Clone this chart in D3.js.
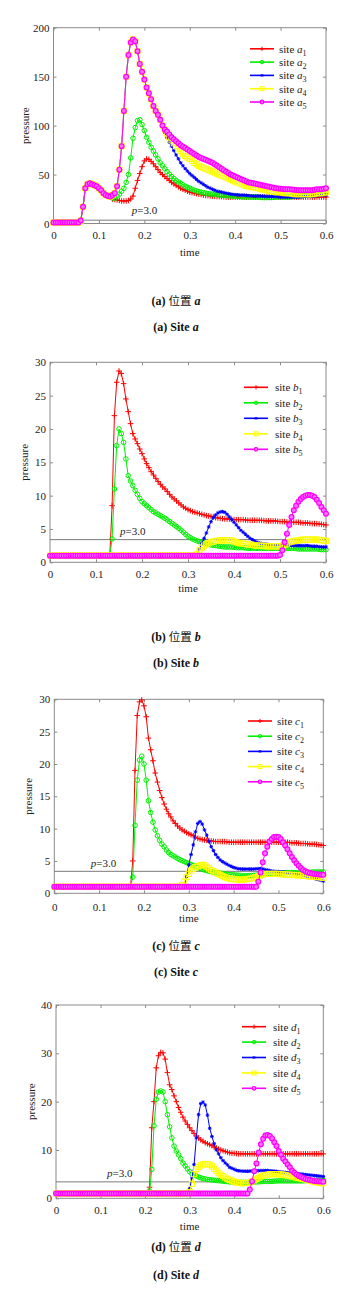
<!DOCTYPE html>
<html><head><meta charset="utf-8">
<script src="https://cdn.jsdelivr.net/npm/d3@7/dist/d3.min.js"></script>
<style>
body{margin:0;background:#fff;}
svg{display:block;}
text{font-family:"Liberation Serif","Times New Roman",serif;}
</style></head><body>
<svg id="chart" width="360" height="1296" font-family="Liberation Serif, Times New Roman, serif"></svg>
<script>
// ---------- data ----------
const time = [
0,0.005,0.01,0.015,0.02,0.025,0.03,0.035,0.04,0.045,
0.05,0.055,0.06,0.065,0.07,0.075,0.08,0.085,0.09,0.095,
0.1,0.105,0.11,0.115,0.12,0.125,0.13,0.135,0.14,0.145,
0.15,0.155,0.16,0.165,0.17,0.175,0.18,0.185,0.19,0.195,
0.2,0.205,0.21,0.215,0.22,0.225,0.23,0.235,0.24,0.245,
0.25,0.255,0.26,0.265,0.27,0.275,0.28,0.285,0.29,0.295,
0.3,0.305,0.31,0.315,0.32,0.325,0.33,0.335,0.34,0.345,
0.35,0.355,0.36,0.365,0.37,0.375,0.38,0.385,0.39,0.395,
0.4,0.405,0.41,0.415,0.42,0.425,0.43,0.435,0.44,0.445,
0.45,0.455,0.46,0.465,0.47,0.475,0.48,0.485,0.49,0.495,
0.5,0.505,0.51,0.515,0.52,0.525,0.53,0.535,0.54,0.545,
0.55,0.555,0.56,0.565,0.57,0.575,0.58,0.585,0.59,0.595,
0.6];
const xTicks = [0,0.1,0.2,0.3,0.4,0.5,0.6];
const yTicksA = [0,50,100,150,200];
const yTicksB = [0,5,10,15,20,25,30];
const yTicksC = [0,5,10,15,20,25,30];
const yTicksD = [0,10,20,30,40];
const panelLetters = ["a","b","c","d"];
const siteIndex = ["1","2","3","4","5"];
const pLevel = 3.4;

const siteA1 = [
1,1,1,1,1,1,1,1,1,1,
1,1,3,17,36,40,41,40,39,38,
36,34,31,29,28,27.5,25,24.5,24,23.5,
23,23,23,23.5,25,28,36,44,51,58,
64,66,65.5,63.5,61,58,55,52,50,48,
46,44,42,40.5,39,37.5,36,35,34,33,
32,31.5,31,30.5,30,29.5,29,28.7,28.5,28.2,
28,27.8,27.5,27.5,27.5,27.2,27,27,27,27,
27,27,27,27,27,27,27,27,27,27,
27,27,27,27,27,27,27,27,27,27,
27,27,27,27,27,27,27,27,27,27,
27,27,27,27,27,27,27,27,27,27,
27];
const siteA2 = [
1,1,1,1,1,1,1,1,1,1,
1,1,3,17,36,40,41,40,39,38,
36,34,31,29,28,27.5,26,25.5,28,30,
33,36,42,50,67,87,98,105,106,101,
95,88,83,78,74,70,66,62,59,56,
53,50.5,48,46,44,42.5,41,39.5,38,37,
36,35,34,33.2,32.5,32,31.5,31,30.5,30.2,
30,29.7,29.5,29.2,29,28.7,28.5,28.2,28,28,
28,27.7,27.5,27.2,27,27,27,27,27,27,
27,26.7,26.5,26.5,26.5,26.5,26.5,26.7,27,27,
27,27,27,27,27,27.5,28,28,28,28.2,
28.5,28.7,29,29.2,29.5,29.7,30,30.5,31,31.5,
32];
const siteA3 = [
1,1,1,1,1,1,1,1,1,1,
1,1,3,17,36,40,41,40,39,38,
36,34,31,29,28,27.5,29,31,38,55,
79,115,150,172,185,188,186,176,163,155,
147,139,133,127,120,115,111,106,99,93,
88,83,79,74.5,70,66,62,59,56,53.5,
51,49,47,45,43,41.5,40,38.5,37,36,
35,34,33,32.5,32,31.5,31,30.5,30,29.7,
29.5,29.2,29,29,29,28.7,28.5,28.2,28,28,
28,28,28,27.7,27.5,27.5,27.5,27.5,27.5,27.2,
27,27,27,27,27,27,27,27,27,27.2,
27.5,27.7,28,28,28,28.2,28.5,28.7,29,29,
29];
const siteA4 = [
1,1,1,1,1,1,1,1,1,1,
1,1,3,17,36,40,41,40,39,38,
36,34,31,29,28,27.5,29,31,38,55,
79,115,150,172,185,188,186,176,163,155,
147,139,133,127,120,115,111,106,100,96,
92,88,85,82,79,76.5,74,71.5,69,67.5,
66,64,62,60.5,59,58,57,56,55,54,
53,52,51,50,49,48,47,46,45,44,
43,42,41,40,39,38.5,38,37.5,37,36.5,
36,35.5,35,34.5,34,33.5,33,32.5,32,32,
32,31.5,31,31,31,30.5,30,30,30,30,
30,30,30,30,30,30.5,31,31,31,31.5,
32];
const siteA5 = [
1,1,1,1,1,1,1,1,1,1,
1,1,3,17,36,40,41,40,39,38,
36,34,31,29,28,27.5,29,31,38,55,
79,115,150,172,185,188,186,176,163,155,
147,139,133,127,120,115,111,106,100,96,
94,91,88,86,84,82,80,78.5,77,75.5,
74,72.5,71,69.5,68,67,66,65,64,63,
62,60.5,59,57.5,56,54.5,53,51.5,50,49,
48,47,46,45,44,43,42,41.5,41,40.5,
40,39.5,39,38.5,38,37.5,37,36.5,36,35.7,
35.5,35.2,35,35,35,34.7,34.5,34.2,34,34,
34,34,34,34,34,34.5,35,35,35,35.5,
36];

const siteB1 = [
1,1,1,1,1,1,1,1,1,1,
1,1,1,1,1,1,1,1,1,1,
1,1,1,1,1,1,1,8.5,22,27,
28.7,28.3,26.8,24.5,22.6,20.8,19.3,18.5,17.8,17,
16.3,15.5,14.8,14.2,13.6,13.1,12.6,12.1,11.7,11.3,
11,10.6,10.2,9.8,9.5,9.2,8.9,8.6,8.3,8.1,
7.9,7.75,7.6,7.5,7.4,7.3,7.2,7.1,7,6.95,
6.9,6.8,6.7,6.65,6.6,6.55,6.5,6.5,6.5,6.45,
6.4,6.4,6.4,6.4,6.4,6.35,6.3,6.3,6.3,6.3,
6.3,6.3,6.3,6.25,6.2,6.2,6.2,6.2,6.2,6.15,
6.1,6.1,6.1,6.05,6,6,6,6,6,5.95,
5.9,5.9,5.9,5.85,5.8,5.8,5.8,5.75,5.7,5.65,
5.6];
const siteB2 = [
1,1,1,1,1,1,1,1,1,1,
1,1,1,1,1,1,1,1,1,1,
1,1,1,1,1,1,1,3.5,11,17.5,
20,19.3,18,15.5,13,12.2,11.5,10.8,10.2,9.6,
9.1,8.8,8.5,8.2,7.9,7.6,7.4,7.2,7,6.8,
6.6,6.35,6.1,5.85,5.6,5.35,5.1,4.8,4.5,4.2,
3.9,3.7,3.5,3.35,3.2,3.1,3,2.9,2.8,2.7,
2.6,2.55,2.5,2.45,2.4,2.35,2.3,2.3,2.3,2.3,
2.25,2.2,2.2,2.2,2.2,2.15,2.1,2.1,2.1,2.1,
2.1,2.1,2.1,2.1,2.1,2.1,2.1,2.1,2.1,2.1,
2.1,2.1,2.1,2.1,2.1,2.1,2.1,2.05,2,2,
2,2,2,2,2,2,2,1.95,1.9,1.9,
1.9];
const siteB3 = [
1,1,1,1,1,1,1,1,1,1,
1,1,1,1,1,1,1,1,1,1,
1,1,1,1,1,1,1,1,1,1,
1,1,1,1,1,1,1,1,1,1,
1,1,1,1,1,1,1,1,1,1,
1,1,1,1,1,1,1,1,1,1,
1,1,1,1,1,2,2.8,3.6,4.4,5.3,
6.1,6.7,7.1,7.4,7.55,7.6,7.5,7.2,6.8,6.4,
6,5.6,5.2,4.8,4.5,4.2,3.9,3.6,3.4,3.2,
3,2.9,2.8,2.75,2.7,2.65,2.6,2.6,2.6,2.6,
2.6,2.6,2.6,2.6,2.6,2.55,2.5,2.5,2.5,2.5,
2.5,2.5,2.5,2.45,2.4,2.4,2.4,2.35,2.3,2.3,
2.3];
const siteB4 = [
1,1,1,1,1,1,1,1,1,1,
1,1,1,1,1,1,1,1,1,1,
1,1,1,1,1,1,1,1,1,1,
1,1,1,1,1,1,1,1,1,1,
1,1,1,1,1,1,1,1,1,1,
1,1,1,1,1,1,1,1,1,1,
1,1,1,1,1.2,1.8,2.2,2.5,2.7,2.85,
3,3.1,3.2,3.25,3.3,3.3,3.3,3.3,3.3,3.25,
3.1,3,2.9,2.85,2.8,2.75,2.7,2.65,2.6,2.55,
2.5,2.5,2.5,2.45,2.4,2.4,2.4,2.4,2.4,2.4,
2.4,2.5,2.6,2.8,3,3.1,3.2,3.25,3.3,3.35,
3.4,3.4,3.4,3.4,3.4,3.4,3.4,3.35,3.3,3.25,
3.2];
const siteB5 = [
1,1,1,1,1,1,1,1,1,1,
1,1,1,1,1,1,1,1,1,1,
1,1,1,1,1,1,1,1,1,1,
1,1,1,1,1,1,1,1,1,1,
1,1,1,1,1,1,1,1,1,1,
1,1,1,1,1,1,1,1,1,1,
1,1,1,1,1,1,1,1,1,1,
1,1,1,1,1,1,1,1,1,1,
1,1,1,1,1,1,1,1,1,1,
1,1,1,1,1,1,1,1,1,1,
1.1,1.8,3,4.3,5.6,6.8,7.8,8.5,9.1,9.5,
9.8,10,10.1,10.1,10,9.8,9.4,8.9,8.3,7.8,
7.3];

const siteC1 = [
1,1,1,1,1,1,1,1,1,1,
1,1,1,1,1,1,1,1,1,1,
1,1,1,1,1,1,1,1,1,1,
1,1,1,1,1,5,19,27.5,29.6,29.9,
29,27.3,24,22.2,20.5,18.6,17.2,15.9,14.8,13.8,
13,12.3,11.8,11.2,10.8,10.4,10.1,9.8,9.6,9.4,
9.2,9.05,8.9,8.7,8.5,8.4,8.3,8.25,8.2,8.15,
8.1,8.05,8,8,8,8,8,7.95,7.9,7.9,
7.9,7.9,7.9,7.9,7.9,7.9,7.9,7.9,7.9,7.9,
7.9,7.9,7.9,7.9,7.9,7.9,7.9,7.9,7.9,7.9,
7.9,7.9,7.9,7.9,7.9,7.85,7.8,7.8,7.8,7.75,
7.7,7.7,7.7,7.65,7.6,7.6,7.6,7.55,7.5,7.45,
7.4];
const siteC2 = [
1,1,1,1,1,1,1,1,1,1,
1,1,1,1,1,1,1,1,1,1,
1,1,1,1,1,1,1,1,1,1,
1,1,1,1,1,2.5,10.5,17.5,20.6,21.2,
20,17.5,14.3,12.5,11,9.8,8.9,8.2,7.6,7.2,
6.7,6.3,6,5.8,5.6,5.4,5.2,5.05,4.9,4.75,
4.6,4.45,4.3,4.15,4,3.85,3.7,3.6,3.5,3.42,
3.35,3.28,3.2,3.15,3.1,3.05,3,2.95,2.9,2.87,
2.85,2.82,2.8,2.75,2.7,2.7,2.7,2.72,2.75,2.78,
2.8,2.85,2.9,2.95,3,3.02,3.05,3.08,3.1,3.1,
3.1,3.12,3.15,3.18,3.2,3.2,3.2,3.2,3.2,3.2,
3.2,3.22,3.25,3.25,3.25,3.28,3.3,3.3,3.3,3.3,
3.3];
const siteC3 = [
1,1,1,1,1,1,1,1,1,1,
1,1,1,1,1,1,1,1,1,1,
1,1,1,1,1,1,1,1,1,1,
1,1,1,1,1,1,1,1,1,1,
1,1,1,1,1,1,1,1,1,1,
1,1,1,1,1,1,1,1,1.2,2.6,
4.4,6,7.5,9.5,10.8,11.1,10.7,9.8,9,8,
7.2,6.6,6,5.55,5.15,4.9,4.7,4.5,4.3,4.15,
4,3.9,3.8,3.77,3.75,3.75,3.75,3.75,3.75,3.75,
3.8,3.8,3.8,3.75,3.65,3.6,3.5,3.45,3.4,3.37,
3.35,3.32,3.3,3.25,3.2,3.15,3.1,3.05,3,2.93,
2.85,2.78,2.7,2.6,2.5,2.4,2.3,2.2,2.1,2,
1.9];
const siteC4 = [
1,1,1,1,1,1,1,1,1,1,
1,1,1,1,1,1,1,1,1,1,
1,1,1,1,1,1,1,1,1,1,
1,1,1,1,1,1,1,1,1,1,
1,1,1,1,1,1,1,1,1,1,
1,1,1,1,1,1,1,1.3,1.8,2.5,
3,3.5,3.8,4.05,4.2,4.35,4.4,4.3,4.1,3.85,
3.6,3.4,3.2,3,2.85,2.65,2.5,2.4,2.3,2.25,
2.2,2.15,2.1,2.1,2.1,2.15,2.2,2.25,2.3,2.4,
2.5,2.65,2.8,2.9,3,3,3,3,3,3,
3,2.97,2.95,2.92,2.9,2.87,2.85,2.82,2.8,2.77,
2.75,2.72,2.7,2.65,2.6,2.57,2.55,2.52,2.5,2.45,
2.4];
const siteC5 = [
1,1,1,1,1,1,1,1,1,1,
1,1,1,1,1,1,1,1,1,1,
1,1,1,1,1,1,1,1,1,1,
1,1,1,1,1,1,1,1,1,1,
1,1,1,1,1,1,1,1,1,1,
1,1,1,1,1,1,1,1,1,1,
1,1,1,1,1,1,1,1,1,1,
1,1,1,1,1,1,1,1,1,1,
1,1,1,1,1,1,1,1,1,1,
1,1.8,3.2,4.8,6.2,7.2,8,8.4,8.7,8.75,
8.7,8.4,7.9,7.4,6.8,6.2,5.6,5.1,4.65,4.25,
3.9,3.6,3.4,3.25,3.15,3.07,3,2.95,2.9,2.87,
2.85];

const siteD1 = [
1,1,1,1,1,1,1,1,1,1,
1,1,1,1,1,1,1,1,1,1,
1,1,1,1,1,1,1,1,1,1,
1,1,1,1,1,1,1,1,1,1,
1,1,2.3,14.6,20,27,29.5,30.2,30.1,28.8,
26,23.5,22.5,21.2,20,18.8,17.8,16.8,16,15.3,
14.6,14,13.4,12.9,12.5,12.1,11.8,11.5,11.3,11.1,
10.9,10.6,10.4,10.2,10,9.85,9.7,9.55,9.4,9.35,
9.3,9.25,9.2,9.2,9.2,9.2,9.2,9.2,9.2,9.2,
9.2,9.2,9.2,9.2,9.2,9.2,9.2,9.2,9.2,9.2,
9.2,9.2,9.2,9.2,9.2,9.2,9.2,9.2,9.2,9.2,
9.2,9.2,9.2,9.2,9.2,9.2,9.2,9.2,9.2,9.2,
9.2];
const siteD2 = [
1,1,1,1,1,1,1,1,1,1,
1,1,1,1,1,1,1,1,1,1,
1,1,1,1,1,1,1,1,1,1,
1,1,1,1,1,1,1,1,1,1,
1,1,1.5,6,15,20.5,22,22.2,22,20,
17.3,14.8,12.5,10.8,9.8,9,8.2,7.3,6.7,6.1,
5.5,5.1,4.8,4.6,4.4,4.25,4.1,4,3.9,3.85,
3.8,3.75,3.7,3.65,3.6,3.55,3.5,3.45,3.4,3.35,
3.3,3.3,3.3,3.3,3.3,3.3,3.3,3.32,3.35,3.38,
3.4,3.42,3.45,3.48,3.5,3.5,3.5,3.52,3.55,3.58,
3.6,3.6,3.6,3.6,3.6,3.6,3.6,3.6,3.6,3.6,
3.6,3.62,3.65,3.65,3.65,3.68,3.7,3.7,3.7,3.7,
3.7];
const siteD3 = [
1,1,1,1,1,1,1,1,1,1,
1,1,1,1,1,1,1,1,1,1,
1,1,1,1,1,1,1,1,1,1,
1,1,1,1,1,1,1,1,1,1,
1,1,1,1,1,1,1,1,1,1,
1,1,1,1,1,1,1,1,1,1,
2,4.2,7,12.5,17.3,19.6,19.9,19.3,17.2,14.5,
12.8,11.3,10,9.2,8.4,7.8,7.3,6.9,6.4,6.2,
6,5.8,5.7,5.65,5.6,5.6,5.6,5.62,5.65,5.68,
5.7,5.72,5.75,5.75,5.75,5.75,5.7,5.68,5.6,5.55,
5.5,5.45,5.4,5.35,5.3,5.25,5.2,5.15,5.1,5.07,
5.05,4.97,4.9,4.85,4.8,4.75,4.7,4.65,4.6,4.55,
4.5];
const siteD4 = [
1,1,1,1,1,1,1,1,1,1,
1,1,1,1,1,1,1,1,1,1,
1,1,1,1,1,1,1,1,1,1,
1,1,1,1,1,1,1,1,1,1,
1,1,1,1,1,1,1,1,1,1,
1,1,1,1,1,1,1,1,1,1,
1.3,3,5,6,6.5,6.8,7,7.1,7.05,6.95,
6.6,6.1,5.7,5.3,4.9,4.6,4.3,4,3.8,3.6,
3.4,3.3,3.2,3.15,3.1,3.15,3.2,3.3,3.5,3.75,
4,4.25,4.5,4.65,4.8,4.9,5,5,5,5,
5,4.95,4.9,4.8,4.7,4.6,4.5,4.4,4.3,4.2,
4.1,4,3.9,3.75,3.6,3.5,3.4,3.3,3.2,3.15,
3.1];
const siteD5 = [
1,1,1,1,1,1,1,1,1,1,
1,1,1,1,1,1,1,1,1,1,
1,1,1,1,1,1,1,1,1,1,
1,1,1,1,1,1,1,1,1,1,
1,1,1,1,1,1,1,1,1,1,
1,1,1,1,1,1,1,1,1,1,
1,1,1,1,1,1,1,1,1,1,
1,1,1,1,1,1,1,1,1,1,
1,1,1,1,1,1,1,1.8,3.5,5.6,
7.2,9.5,11.2,12.3,13,13.1,12.9,12.4,11.6,10.8,
9.8,9,8.2,7.6,7,6.4,5.7,5.3,4.9,4.6,
4.4,4.2,4,3.9,3.8,3.7,3.6,3.55,3.5,3.47,
3.45];

// ---------- layout / style ----------
const panels = [
  {series:[siteA1,siteA2,siteA3,siteA4,siteA5], yMax:200, yTicks:yTicksA},
  {series:[siteB1,siteB2,siteB3,siteB4,siteB5], yMax:30, yTicks:yTicksB},
  {series:[siteC1,siteC2,siteC3,siteC4,siteC5], yMax:30, yTicks:yTicksC},
  {series:[siteD1,siteD2,siteD3,siteD4,siteD5], yMax:40, yTicks:yTicksD}
];
const layout = [
  {left:53.5, right:326, top:27.7, bottom:223.5, xPad:7.7, timeY:256, pressX:25, legX1:250, legX2:274, legTX:279, legY0:48.8, legDy:13.3, pX:131.7, pY:214, cap1Y:305, cap2Y:331},
  {left:50, right:326, top:362.3, bottom:562.3, xPad:7.9, timeY:592, pressX:24, legX1:244, legX2:268, legTX:275, legY0:387.3, legDy:15.5, pX:120, pY:535, cap1Y:641, cap2Y:667},
  {left:54.3, right:323.3, top:699.3, bottom:893.3, xPad:9.4, timeY:922, pressX:28.3, legX1:248, legX2:272, legTX:277, legY0:721, legDy:15.2, pX:90.7, pY:867, cap1Y:950, cap2Y:976},
  {left:56, right:323.3, top:1005, bottom:1198.3, xPad:7.9, timeY:1229.5, pressX:30.7, legX1:242, legX2:266, legTX:273, legY0:1026.7, legDy:15.4, pX:107, pY:1176.5, cap1Y:1251, cap2Y:1279}
];
const colors = ["#ff0000","#00f000","#0000ff","#ffff00","#ff00ff"];
const markerTypes = ["plus","circle","star","square","dot"];
const axisColor = "#8a8a8a";
const textColor = "#222";
const serif = '"Liberation Serif","Times New Roman",serif';

panels.forEach((p, pi) => p.series.forEach((s, si) => {
  if (s.length !== time.length) console.error(`series ${panelLetters[pi]}${si+1} has ${s.length} values`);
}));

const svg = d3.select("#chart");

function drawMarker(g, type, color, x, y, s) {
  if (type === "plus") {
    g.append("path").attr("d", `M${x-2.8*s},${y}H${x+2.8*s}M${x},${y-2.8*s}V${y+2.8*s}`)
      .attr("stroke", color).attr("stroke-width", 1).attr("fill", "none");
  } else if (type === "circle") {
    g.append("circle").attr("cx", x).attr("cy", y).attr("r", 2.3*s)
      .attr("stroke", color).attr("stroke-width", 1).attr("fill", "none");
  } else if (type === "star") {
    const a = 1.8*s, b = 1.3*s;
    g.append("path").attr("d", `M${x-a},${y}H${x+a}M${x},${y-a}V${y+a}M${x-b},${y-b}L${x+b},${y+b}M${x-b},${y+b}L${x+b},${y-b}`)
      .attr("stroke", color).attr("stroke-width", 1).attr("fill", "none");
  } else if (type === "square") {
    g.append("rect").attr("x", x-2.6*s).attr("y", y-2.6*s).attr("width", 5.2*s).attr("height", 5.2*s)
      .attr("stroke", color).attr("stroke-width", 1).attr("fill", "none");
  } else {
    g.append("circle").attr("cx", x).attr("cy", y).attr("r", 2.4*s)
      .attr("stroke", color).attr("stroke-width", 1.2).attr("fill", "#ff70ff");
  }
}

panels.forEach((p, pi) => {
  const L = layout[pi];
  const letter = panelLetters[pi];
  const x = d3.scaleLinear().domain([0, 0.6]).range([L.left, L.right]);
  const y = d3.scaleLinear().domain([0, p.yMax]).range([L.bottom, L.top]);
  const g = svg.append("g");

  const fmtX = d => d === 0 ? "0" : d3.format(".1f")(d);
  const ax = g.append("g").attr("transform", `translate(0,${L.bottom})`)
    .call(d3.axisBottom(x).tickValues(xTicks).tickFormat(fmtX).tickSize(-3).tickSizeOuter(0).tickPadding(L.xPad));
  const ax2 = g.append("g").attr("transform", `translate(0,${L.top})`)
    .call(d3.axisTop(x).tickValues(xTicks).tickFormat("").tickSize(-3).tickSizeOuter(0));
  const ay = g.append("g").attr("transform", `translate(${L.left},0)`)
    .call(d3.axisLeft(y).tickValues(p.yTicks).tickSize(-3).tickSizeOuter(0).tickPadding(4));
  const ay2 = g.append("g").attr("transform", `translate(${L.right},0)`)
    .call(d3.axisRight(y).tickValues(p.yTicks).tickFormat("").tickSize(-3).tickSizeOuter(0));
  [ax, ax2, ay, ay2].forEach(a => {
    a.attr("font-family", serif);
    a.select(".domain").remove();
    a.selectAll("line").attr("stroke", axisColor);
    a.selectAll("text").attr("font-family", serif).attr("font-size", 11).attr("fill", textColor);
  });
  g.append("rect").attr("x", L.left).attr("y", L.top)
    .attr("width", L.right - L.left).attr("height", L.bottom - L.top)
    .attr("fill", "none").attr("stroke", axisColor).attr("stroke-width", 1);

  g.append("text").attr("x", (L.left + L.right) / 2).attr("y", L.timeY)
    .attr("text-anchor", "middle").attr("font-family", serif).attr("font-size", 11).attr("fill", textColor).text("time");
  g.append("text").attr("transform", `translate(${L.pressX},${(L.top + L.bottom) / 2}) rotate(-90)`)
    .attr("text-anchor", "middle").attr("dy", "0.35em").attr("font-family", serif).attr("font-size", 11).attr("fill", textColor).text("pressure");

  g.append("line").attr("x1", L.left).attr("x2", L.right)
    .attr("y1", y(pLevel)).attr("y2", y(pLevel))
    .attr("stroke", "#7a7a7a").attr("stroke-width", 1);
  const pt = g.append("text").attr("x", L.pX).attr("y", L.pY).attr("font-family", serif).attr("font-size", 11).attr("fill", textColor);
  pt.append("tspan").attr("font-style", "italic").text("p");
  pt.append("tspan").text("=3.0");

  const line = d3.line().x((d, i) => x(time[i])).y(d => y(d));
  p.series.forEach((vals, si) => {
    const sg = g.append("g");
    sg.append("path").datum(vals).attr("d", line)
      .attr("fill", "none").attr("stroke", colors[si]).attr("stroke-width", 1);
    vals.forEach((v, i) => drawMarker(sg, markerTypes[si], colors[si], x(time[i]), y(v), 1));
  });

  siteIndex.forEach((num, si) => {
    const ly = L.legY0 + si * L.legDy;
    g.append("line").attr("x1", L.legX1).attr("x2", L.legX2).attr("y1", ly).attr("y2", ly)
      .attr("stroke", colors[si]).attr("stroke-width", 1.6);
    drawMarker(g, markerTypes[si], colors[si], (L.legX1 + L.legX2) / 2, ly, 0.75);
    const t = g.append("text").attr("x", L.legTX).attr("y", ly).attr("dy", "0.35em")
      .attr("font-family", serif).attr("font-size", 11).attr("fill", textColor);
    t.append("tspan").text("site ");
    t.append("tspan").attr("font-style", "italic").text(letter);
    t.append("tspan").attr("font-size", 8).attr("dy", 3).text(num);
  });

  const c1 = svg.append("text").attr("x", 176).attr("y", L.cap1Y).attr("text-anchor", "middle")
    .attr("font-family", serif).attr("font-size", 12).attr("fill", "#111");
  c1.append("tspan").attr("font-weight", "bold").text(`(${letter}) `);
  c1.append("tspan").attr("font-family", '"Noto Sans CJK SC"').attr("font-size", 11.5).text("位置");
  c1.append("tspan").text(" ");
  c1.append("tspan").attr("font-weight", "bold").attr("font-style", "italic").text(letter);
  const c2 = svg.append("text").attr("x", 176).attr("y", L.cap2Y).attr("text-anchor", "middle")
    .attr("font-family", serif).attr("font-size", 12).attr("fill", "#111").attr("font-weight", "bold");
  c2.append("tspan").text(`(${letter}) Site `);
  c2.append("tspan").attr("font-style", "italic").text(letter);
});
</script>
</body></html>
